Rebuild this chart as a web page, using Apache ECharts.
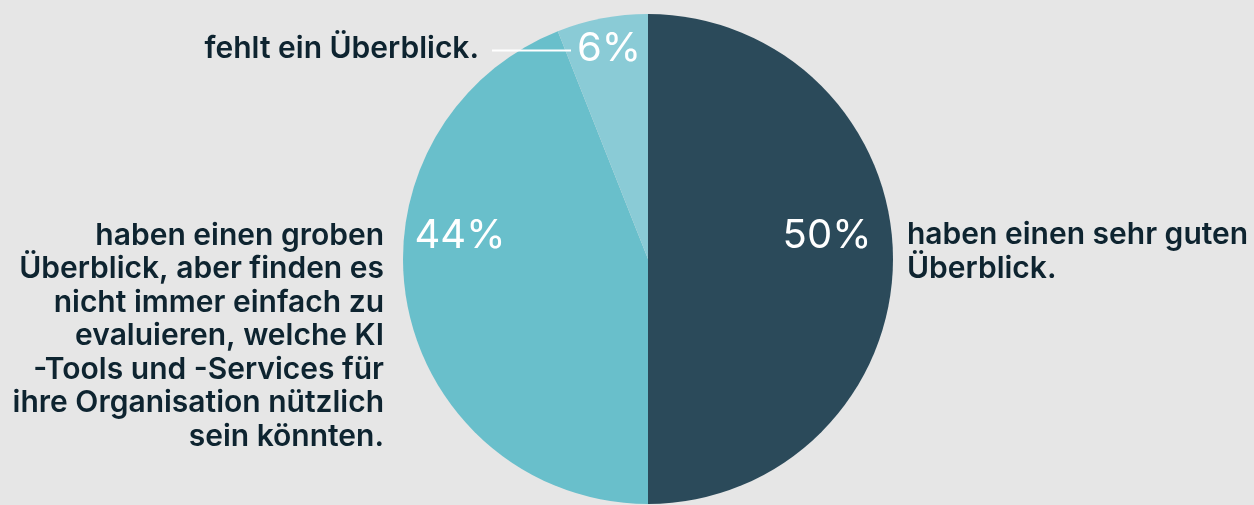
<!DOCTYPE html>
<html>
<head>
	<meta charset="UTF-8">
	<title>KI Überblick</title>
	<script src="https://cdn.jsdelivr.net/npm/echarts@6/dist/echarts.min.js"></script>
	<style>
		html, body { margin: 0; padding: 0; background: #e6e6e6; }
	</style>
</head>
<body>
	<div id="main" style="width: 1254px; height: 505px;"></div>
	<script>
		// Daten
		var names = [
			'haben einen sehr guten\nÜberblick.',
			'haben einen groben\nÜberblick, aber finden es\nnicht immer einfach zu\nevaluieren, welche KI\n-Tools und -Services für\nihre Organisation nützlich\nsein könnten.',
			'fehlt ein Überblick.'
		];
		var values = [50, 44, 6];
		var colors = ['#2b4a5a', '#69bfcb', '#8acbd6'];

		// Positionen der Beschriftungen (Pixel)
		var pctPos = [[827, 236], [460, 236], [609, 49]];
		var descPos = [
			{ x: 907, y: 252, align: 'left' },
			{ x: 384, y: 336, align: 'right' },
			{ x: 479, y: 49, align: 'right' }
		];

		var myChart = echarts.init(document.getElementById('main'));

		var pieData = values.map(function (v, i) {
			return { name: names[i], value: v, itemStyle: { color: colors[i] } };
		});

		var option = {
			backgroundColor: '#e6e6e6',
			animation: false,
			graphic: [{
				type: 'line',
				shape: { x1: 492, y1: 50.5, x2: 571, y2: 50.5 },
				style: { stroke: '#ffffff', lineWidth: 2 },
				z: 10
			}],
			series: [{
				type: 'pie',
				center: [648, 259],
				radius: 245,
				startAngle: 90,
				clockwise: true,
				silent: true,
				data: pieData,
				label: {
					show: true,
					position: 'inside',
					formatter: '{c}%',
					color: '#ffffff',
					fontFamily: 'Inter, "Liberation Sans", sans-serif',
					fontSize: 40,
					fontWeight: 400
				},
				labelLine: { show: false },
				labelLayout: function (p) {
					var pos = pctPos[p.dataIndex];
					return { x: pos[0], y: pos[1], align: 'center', verticalAlign: 'middle' };
				}
			}, {
				type: 'pie',
				center: [648, 259],
				radius: 245,
				startAngle: 90,
				clockwise: true,
				silent: true,
				data: values.map(function (v, i) {
					return { name: names[i], value: v, itemStyle: { color: 'rgba(0,0,0,0)' } };
				}),
				label: {
					show: true,
					position: 'outside',
					formatter: '{b}',
					color: '#0e2430',
					fontFamily: 'Inter, "Liberation Sans", sans-serif',
					fontSize: 30,
					fontWeight: 600,
					lineHeight: 33.5,
					overflow: 'none'
				},
				labelLine: { show: false },
				labelLayout: function (p) {
					var d = descPos[p.dataIndex];
					return { x: d.x, y: d.y, align: d.align, verticalAlign: 'middle' };
				}
			}]
		};
		myChart.setOption(option);
	</script>
</body>
</html>
